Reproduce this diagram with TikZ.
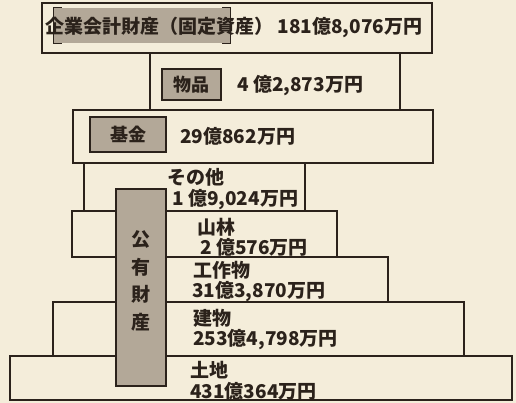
\documentclass[tikz,border=0pt]{standalone}
\usepackage{fontspec}
\newfontfamily\jpfont{Noto Sans CJK JP}
\definecolor{paper}{HTML}{F4EDDA}
\definecolor{shade}{HTML}{B3A898}
\definecolor{ink}{HTML}{2B221B}
\begin{document}
\begin{tikzpicture}[x=1pt,y=-1pt] % 財産の内訳
\tikzstyle{mybox} = [draw=ink, line width=1.4pt, fill=paper] % stufe box
\tikzstyle{mylabel} = [draw=ink, line width=1.2pt, fill=shade, inner sep=0pt, text=ink, font=\jpfont\bfseries\fontsize{18}{20}\selectfont] % gray label
\tikzstyle{mytext} = [anchor=west, inner sep=0pt, text=ink, font=\jpfont\bfseries\fontsize{19}{21}\selectfont] % amount text

\useasboundingbox (0,0) rectangle (516,403);
\fill[paper] (0,0) rectangle (516,403);
%
\draw[mybox] (42,3) rectangle (432,53); % 企業会計財産
\draw[mybox] (150,53) rectangle (400,110); % 物品
\draw[mybox] (73,110) rectangle (433,163); % 基金
\draw[mybox] (84,163) rectangle (305,211); % その他
\draw[mybox] (72,211) rectangle (337,257); % 山林
\draw[mybox] (125,257) rectangle (388,302); % 工作物
\draw[mybox] (53,302) rectangle (464,356); % 建物
\draw[mybox] (10,356) rectangle (512,400); % 土地
%
\node[fill=shade, inner sep=0pt, minimum width=176pt, minimum height=35pt] (kigyolab) at (142,25.5) {};
\draw[ink, line width=1.2pt] ([xshift=8pt]kigyolab.north west) -- (kigyolab.north west) -- (kigyolab.south west) -- ([xshift=8pt]kigyolab.south west);
\draw[ink, line width=1.2pt] ([xshift=-8pt]kigyolab.north east) -- (kigyolab.north east) -- (kigyolab.south east) -- ([xshift=-8pt]kigyolab.south east);
\node[mylabel, minimum width=59pt, minimum height=31pt] (buppin) at (191.5,84.5) {物品};
\node[mylabel, minimum width=76pt, minimum height=35pt] (kikin) at (128,134.5) {基金};
\node[mylabel, minimum width=50pt, minimum height=197pt] (koyu) at (141,287.5) {};
\foreach \c [count=\i] in {公,有,財,産}
	\node[mytext, anchor=center] (koyu\i) at (141,212+27.5*\i) {\c};
%
\node[mytext] (kigyo) at (45,27) {企業会計財産（固定資産）\ 181億8,076万円};
\node[mytext] (buppinv) at (237,86) {4 億2,873万円};
\node[mytext] (kikinv) at (180,136) {29億862万円};
\node[mytext] (sonota) at (167,177) {その他};
\node[mytext] (sonotav) at (172,200) {1 億9,024万円};
\node[mytext] (sanrin) at (197,227) {山林};
\node[mytext] (sanrinv) at (200,247) {2 億576万円};
\node[mytext] (kosaku) at (193,270) {工作物};
\node[mytext] (kosakuv) at (192,292) {31億3,870万円};
\node[mytext] (tatemono) at (193,318) {建物};
\node[mytext] (tatemonov) at (193,340) {253億4,798万円};
\node[mytext] (tochi) at (190,370) {土地};
\node[mytext] (tochiv) at (190,391) {431億364万円};
\end{tikzpicture}
\end{document}
